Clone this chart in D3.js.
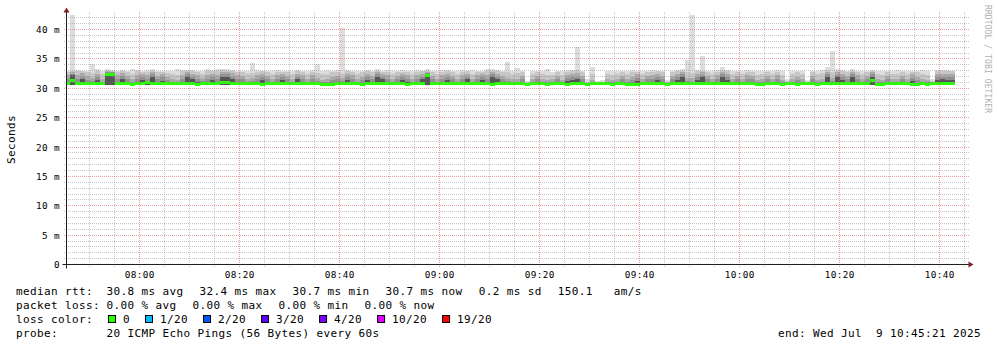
<!DOCTYPE html>
<html>
<head>
<meta charset="utf-8">
<script src="https://cdn.jsdelivr.net/npm/d3@7"></script>
<style>
  body { margin: 0; background: #fff; }
  svg { display: block; }
  text { font-family: "DejaVu Sans Mono", monospace; fill: #000; white-space: pre; }
</style>
</head>
<body>
<svg width="997" height="347"></svg>
<script>
// time window of the graph (3 hours) and the 1 minute step stamps
const startTime = new Date("2025-07-09T07:45:21Z");
const endTime = new Date("2025-07-09T10:45:21Z");
const firstStamp = new Date("2025-07-09T07:46:00Z");

// median rtt per minute (ms)
const median = [
  30.8,31.3,30.8,30.8,30.8,30.8,30.8,30.8,32.4,32.3,
  30.8,30.8,30.8,30.7,30.8,30.8,30.9,30.8,30.8,30.8,
  30.8,30.8,30.8,30.8,30.8,30.8,30.7,30.8,30.8,30.8,
  30.8,31.0,30.9,30.8,30.8,30.8,30.8,30.8,30.8,30.7,
  30.8,30.8,30.8,30.8,30.8,30.8,30.8,30.8,30.8,30.8,
  30.8,30.65,30.65,30.65,30.8,30.8,30.8,30.8,30.8,30.65,
  30.8,30.8,30.8,30.8,30.8,30.8,30.8,30.8,30.7,30.8,
  30.8,30.8,32.1,30.8,30.8,30.8,30.8,30.8,30.8,30.8,
  30.8,30.8,30.8,30.8,30.8,30.7,30.8,30.8,30.8,30.8,
  30.8,30.8,30.65,30.8,30.8,30.8,30.65,30.8,30.8,30.8,
  30.65,30.8,30.8,30.8,30.65,30.8,30.8,30.8,30.8,30.65,
  30.8,30.8,30.65,30.65,30.65,30.8,30.8,30.8,30.8,30.8,
  30.65,30.8,30.8,30.8,30.8,30.8,30.8,30.8,30.8,30.8,
  30.8,30.8,30.8,30.8,30.8,30.8,30.8,30.8,30.65,30.65,
  30.8,30.8,30.8,30.65,30.8,30.8,30.65,30.8,30.8,30.8,
  30.65,30.8,30.8,30.8,30.8,30.8,30.8,30.8,30.8,30.8,
  30.8,31.4,30.65,30.65,30.8,30.8,30.8,30.8,30.8,30.65,
  30.65,30.8,30.65,30.8,30.8,30.8,30.8,30.8
];

// lowest ping per minute
const pingMin = [
  30.6,30.6,30.6,30.6,30.6,30.6,30.6,30.6,30.6,30.6,
  30.6,30.6,30.6,30.6,30.6,30.6,30.6,30.6,30.6,30.6,
  30.6,30.6,30.6,30.6,30.6,30.6,30.6,30.6,30.6,30.6,
  30.6,30.6,30.6,30.6,30.6,30.6,30.6,30.6,30.6,30.6,
  30.6,30.6,30.6,30.6,30.6,30.6,30.6,30.6,30.6,30.6,
  30.6,30.5,30.5,30.5,30.6,30.6,30.6,30.6,30.6,30.5,
  30.6,30.6,30.6,30.6,30.6,30.6,30.6,30.6,30.3,30.6,
  30.6,30.6,30.6,30.6,30.6,30.6,30.6,30.6,30.6,30.6,
  30.6,30.6,30.6,30.6,30.6,30.6,30.6,30.6,30.6,30.6,
  30.6,30.6,30.5,30.6,30.6,30.6,30.5,30.6,30.6,30.6,
  30.5,30.6,30.6,30.6,30.5,30.6,30.6,30.6,30.6,30.5,
  30.6,30.6,30.5,30.5,30.5,30.6,30.6,30.6,30.6,30.6,
  30.5,30.6,30.6,30.6,30.6,30.6,30.6,30.6,30.6,30.6,
  30.6,30.6,30.6,30.6,30.6,30.6,30.6,30.6,30.5,30.5,
  30.6,30.6,30.6,30.5,30.6,30.6,30.5,30.6,30.6,30.6,
  30.5,30.6,30.6,30.6,30.6,30.6,30.6,30.6,30.6,30.6,
  30.6,30.5,30.5,30.5,30.6,30.6,30.6,30.6,30.6,30.5,
  30.5,30.6,30.5,30.6,30.6,30.6,30.6,30.6
];

// 12th, 14th, 16th, 18th of 20 sorted pings, and the highest ping
const p12 = [
  31.0,32.2,31.1,31.5,31.0,30.9,31.4,30.9,32.6,32.5,
  31.1,31.6,31.0,30.9,31.0,31.4,31.1,32.0,31.0,31.3,
  31.0,30.9,30.9,31.1,31.9,31.5,31.0,30.9,31.1,31.4,
  31.0,32.0,31.9,31.5,31.1,31.0,30.9,30.9,31.0,31.4,
  31.0,30.9,31.1,31.4,31.0,30.9,31.5,31.0,30.9,31.1,
  30.9,30.8,30.8,30.9,31.0,30.9,31.4,31.0,30.9,30.9,
  31.4,31.0,31.9,31.5,31.1,30.9,31.0,31.4,31.0,30.9,
  31.1,31.5,32.3,31.0,30.9,31.0,31.4,31.0,30.9,31.1,
  31.5,30.9,31.0,31.4,31.1,32.0,31.5,31.0,30.9,30.9,
  30.9,31.0,30.8,30.9,31.0,30.9,30.8,30.9,31.0,30.9,
  31.2,31.4,31.5,31.0,30.8,30.9,30.8,30.8,30.9,30.8,
  30.9,31.0,30.8,30.9,31.2,30.9,31.0,31.1,31.4,31.0,
  30.8,31.0,31.4,32.0,30.9,30.9,31.4,31.9,31.0,30.9,
  31.0,32.0,31.4,30.9,31.0,30.9,31.0,31.0,30.8,30.8,
  31.0,30.9,31.0,30.8,30.8,30.9,30.9,30.9,30.8,31.0,
  30.8,30.9,32.0,30.9,31.9,31.4,31.0,31.9,31.0,30.9,
  31.0,32.0,30.8,30.8,31.0,30.9,30.9,31.0,30.9,31.2,
  30.9,30.9,30.8,30.8,31.4,31.5,31.4,31.4
];
const p14 = [
  31.6,32.5,31.6,32.0,31.4,31.2,31.9,31.1,32.7,32.7,
  31.6,32.1,31.5,31.1,31.6,32.0,31.6,32.4,31.5,31.9,
  31.4,31.1,31.0,31.6,32.4,32.0,31.5,31.2,31.6,31.9,
  31.6,32.5,32.4,32.0,31.6,31.5,31.1,31.2,31.5,32.0,
  31.5,31.1,31.6,31.9,31.5,31.1,32.0,31.6,31.1,31.6,
  31.2,31.0,31.0,31.4,31.5,31.2,32.0,31.5,31.1,31.4,
  31.9,31.5,32.4,32.0,31.6,31.1,31.5,31.9,31.5,31.1,
  31.6,32.0,32.6,31.5,31.1,31.6,31.9,31.5,31.1,31.6,
  32.0,31.1,31.5,31.9,31.6,32.4,32.0,31.5,31.2,31.1,
  31.1,31.5,30.9,31.1,31.5,31.1,31.0,31.1,31.5,31.1,
  31.8,31.9,32.0,31.5,30.9,31.0,30.9,30.9,31.1,31.0,
  31.1,31.5,31.0,31.4,31.8,31.1,31.5,31.6,31.9,31.5,
  30.9,31.5,31.9,32.4,31.2,31.1,31.9,32.3,31.5,31.1,
  31.5,32.4,32.0,31.1,31.5,31.1,31.6,31.5,31.0,31.0,
  31.5,31.1,31.5,31.0,30.9,31.1,31.4,31.1,30.9,31.5,
  31.0,31.1,32.4,31.2,32.3,31.9,31.5,32.4,31.5,31.1,
  31.5,32.4,31.0,31.0,31.5,31.1,31.1,31.5,31.1,31.8,
  31.4,31.1,31.0,30.9,31.9,32.0,31.9,32.0
];
const p16 = [
  32.3,32.8,32.2,32.6,32.1,31.7,32.5,31.5,32.9,32.8,
  32.2,32.6,32.1,31.6,32.3,32.5,32.2,32.7,32.1,32.4,
  32.0,31.6,31.4,32.3,32.7,32.5,32.2,31.7,32.2,32.5,
  32.3,32.8,32.8,32.6,32.2,32.1,31.6,31.8,32.2,32.5,
  32.1,31.5,32.2,32.4,32.1,31.6,32.5,32.2,31.5,32.2,
  31.7,31.4,31.5,32.0,32.1,31.7,32.5,32.2,31.5,32.0,
  32.5,32.1,32.7,32.5,32.2,31.6,32.1,32.4,32.2,31.5,
  32.2,32.5,32.8,32.1,31.6,32.2,32.5,32.1,31.5,32.2,
  32.5,31.6,32.2,32.4,32.2,32.7,32.5,32.1,31.8,31.5,
  31.6,32.1,30.9,31.5,32.1,31.6,31.4,31.5,32.1,31.4,
  32.3,32.5,32.6,32.1,30.9,31.4,30.9,31.0,31.5,31.4,
  31.6,32.1,31.5,32.0,32.4,31.5,32.1,32.2,32.5,32.1,
  31.0,32.1,32.5,32.7,31.8,31.7,32.5,32.7,32.1,31.6,
  32.2,32.8,32.5,31.5,32.1,31.6,32.2,32.1,31.4,31.5,
  32.1,31.6,32.2,31.4,31.0,31.5,32.0,31.6,30.9,32.1,
  31.4,31.6,32.8,31.8,32.7,32.5,32.1,32.7,32.2,31.5,
  32.1,32.7,31.5,31.4,32.1,31.6,31.5,32.1,31.5,32.4,
  32.0,31.6,31.4,31.0,32.5,32.5,32.4,32.5
];
const p18 = [
  32.8,33.0,32.9,32.9,32.7,32.6,32.9,32.4,33.0,33.0,
  32.8,32.9,32.7,32.5,32.9,32.8,32.8,33.0,32.7,32.8,
  32.6,32.4,32.3,32.9,33.0,32.9,32.8,32.5,32.9,32.9,
  32.9,33.1,33.0,32.9,32.8,32.7,32.5,32.6,32.8,32.9,
  32.7,32.4,32.8,32.8,32.7,32.5,32.9,32.8,32.4,32.8,
  32.6,32.4,32.5,32.7,32.8,32.6,32.9,32.8,32.4,32.7,
  32.9,32.7,33.0,32.8,32.8,32.5,32.7,32.8,32.8,32.4,
  32.8,32.9,33.0,32.7,32.5,32.8,32.9,32.7,32.4,32.8,
  32.9,32.5,32.8,32.8,32.9,33.0,32.9,32.7,32.7,32.4,
  32.6,32.7,31.0,32.4,32.7,32.5,32.3,32.2,32.7,32.3,
  32.8,32.9,33.1,32.7,31.1,32.4,31.0,31.1,32.5,32.3,
  32.5,32.7,32.4,32.7,32.8,32.4,32.7,32.8,32.9,32.7,
  31.1,32.7,32.9,33.0,32.8,32.6,32.9,33.0,32.7,32.5,
  32.8,33.1,32.9,32.4,32.7,32.5,32.8,32.7,32.3,32.4,
  32.7,32.5,32.8,32.3,31.2,32.4,32.7,32.5,31.1,32.7,
  32.4,32.6,33.1,32.8,33.0,32.9,32.7,33.0,32.8,32.4,
  32.7,33.0,32.4,32.3,32.7,32.5,32.5,32.7,32.4,32.8,
  32.7,32.5,32.3,31.2,32.9,32.9,32.9,32.9
];
const pingMax = [
  33.0,42.5,33.1,33.0,33.0,34.1,33.2,32.9,33.2,33.1,
  33.0,33.1,32.9,33.3,33.1,33.0,33.1,33.2,33.0,33.0,
  32.9,32.9,33.2,33.1,33.1,33.1,33.0,33.0,33.2,33.1,
  33.3,33.3,33.2,33.1,33.0,33.0,33.0,34.3,33.1,33.0,
  33.0,32.9,33.1,33.0,32.9,33.0,33.1,33.0,33.0,33.1,
  34.1,32.9,33.1,33.0,33.1,40.2,33.1,33.0,32.9,33.0,
  33.1,33.0,33.2,33.0,33.1,33.0,33.0,33.1,33.0,32.9,
  33.1,33.0,33.2,33.0,33.0,33.1,33.1,32.9,33.0,33.1,
  33.0,33.1,33.0,33.0,33.2,33.2,33.1,33.0,34.5,33.0,
  33.5,33.0,31.3,32.9,33.0,33.0,33.3,32.8,33.0,32.9,
  33.1,33.1,37.0,33.0,31.5,33.6,31.2,31.4,33.0,32.9,
  33.0,33.0,33.0,33.1,33.0,32.9,33.0,33.1,33.0,33.0,
  31.4,33.0,33.1,33.2,34.8,42.5,33.1,35.5,33.0,33.0,
  33.1,33.6,33.1,32.9,33.0,33.0,33.1,33.0,32.9,33.0,
  33.0,33.0,33.1,32.9,31.6,33.0,33.0,33.0,31.4,33.0,
  33.0,33.1,33.6,36.3,33.2,33.1,33.0,33.2,33.0,32.9,
  33.0,33.1,33.0,32.9,33.0,33.0,33.1,33.0,32.9,33.0,
  33.0,33.1,32.9,31.6,33.1,33.1,33.1,33.0
];

// y ticks and legend texts
const yTicks = [0, 5, 10, 15, 20, 25, 30, 35, 40];
const yTickLabels = ["0", "5 m", "10 m", "15 m", "20 m", "25 m", "30 m", "35 m", "40 m"];
const rttStats = ["30.8 ms avg", "32.4 ms max", "30.7 ms min", "30.7 ms now", "0.2 ms sd", "150.1   am/s"];
const lossStats = ["0.00 % avg", "0.00 % max", "0.00 % min", "0.00 % now"];
const lossLabels = ["0", "1/20", "2/20", "3/20", "4/20", "10/20", "19/20"];
const lossColors = ["#26ff00", "#00b8ff", "#0059ff", "#5e00ff", "#7e00ff", "#dd00ff", "#ff0000"];
const probeText = "20 ICMP Echo Pings (56 Bytes) every 60s";
const endText = "end: Wed Jul  9 10:45:21 2025";

// smoke layers, outer to inner
const smokeLayers = [
  { values: pingMax, color: "#dddddd" },
  { values: p18, color: "#c6c6c6" },
  { values: p16, color: "#aaaaaa" },
  { values: p14, color: "#919191" },
  { values: p12, color: "#555555" }
];

const plot = { left: 66.5, right: 966.5, top: 14.5, bottom: 264.5 };
const svg = d3.select("svg");

const x = d3.scaleUtc().domain([startTime, endTime]).range([plot.left, plot.right]);
const y = d3.scaleLinear().domain([0, 250 / 5.875]).range([plot.bottom, plot.top]);

const stamps = d3.utcMinute.range(firstStamp, d3.utcMinute.offset(firstStamp, median.length));
const colX0 = (i) => Math.max(Math.round(x(d3.utcMinute.offset(stamps[i], -1))), 67);
const colX1 = (i) => Math.round(x(stamps[i]));

// smoke
smokeLayers.forEach((layer) => {
  svg.append("g")
    .attr("shape-rendering", "crispEdges")
    .selectAll("rect")
    .data(layer.values)
    .join("rect")
    .attr("x", (d, i) => colX0(i))
    .attr("width", (d, i) => colX1(i) - colX0(i))
    .attr("y", (d) => y(d))
    .attr("height", (d, i) => Math.max(0, y(pingMin[i]) - y(d)))
    .attr("fill", layer.color);
});

// median, coloured by loss (no loss here)
svg.append("g")
  .attr("shape-rendering", "crispEdges")
  .selectAll("rect")
  .data(median)
  .join("rect")
  .attr("x", (d, i) => colX0(i))
  .attr("width", (d, i) => colX1(i) - colX0(i))
  .attr("y", (d) => y(d) - 1.5)
  .attr("height", 3)
  .attr("fill", lossColors[0]);

// grid (dotted, dashes start on whole pixels)
const crisp = (v) => Math.round(v - 0.5) + 0.5;
const minorColor = "rgba(143,143,143,0.5)";
const majorColor = "rgba(222,80,80,0.55)";
const grid = svg.append("g").attr("stroke-width", 1).attr("stroke-dasharray", "1,1").attr("fill", "none");
const hLines = (vals, color) => grid.append("g").selectAll("line").data(vals).join("line")
  .attr("x1", 64).attr("x2", 969)
  .attr("y1", (d) => crisp(y(d))).attr("y2", (d) => crisp(y(d)))
  .attr("stroke", color);
const vLines = (vals, color) => grid.append("g").selectAll("line").data(vals).join("line")
  .attr("x1", (d) => crisp(x(d))).attr("x2", (d) => crisp(x(d)))
  .attr("y1", 267).attr("y2", 12)
  .attr("stroke", color);
const minorY = d3.range(1, 43).filter((v) => v % 5 !== 0);
const minorX = d3.utcMinute.every(5).range(startTime, endTime).filter((t) => t.getUTCMinutes() % 20 !== 0);
const majorX = d3.utcMinute.every(20).range(startTime, endTime);
hLines(minorY, minorColor);
vLines(minorX, minorColor);
hLines(yTicks.slice(1), majorColor);
vLines(majorX, majorColor);

// axes and arrows
svg.append("line")
  .attr("x1", plot.left - 4).attr("x2", plot.right + 4)
  .attr("y1", plot.bottom).attr("y2", plot.bottom)
  .attr("stroke", "#1f1f1f");
svg.append("line")
  .attr("x1", plot.left).attr("x2", plot.left)
  .attr("y1", plot.bottom + 4).attr("y2", plot.top - 4)
  .attr("stroke", "#1f1f1f");
svg.append("path")
  .attr("d", `M${plot.right + 2},${plot.bottom - 3}L${plot.right + 7},${plot.bottom}L${plot.right + 2},${plot.bottom + 3}Z`)
  .attr("fill", "#801f1f");
svg.append("path")
  .attr("d", `M${plot.left - 3},${plot.top - 2}L${plot.left},${plot.top - 7}L${plot.left + 3},${plot.top - 2}Z`)
  .attr("fill", "#801f1f");

// tick labels
const axisFont = (sel) => sel.style("font-size", "9.33px").style("letter-spacing", "0.4px");
svg.append("g").selectAll("text").data(yTicks).join("text")
  .call(axisFont)
  .attr("x", 60)
  .attr("y", (d) => y(d) + 3.5)
  .attr("text-anchor", "end")
  .text((d, i) => yTickLabels[i]);
svg.append("g").selectAll("text").data(majorX).join("text")
  .call(axisFont)
  .attr("x", (d) => x(d))
  .attr("y", 277.5)
  .attr("text-anchor", "middle")
  .text(d3.utcFormat("%H:%M"));

// axis title and watermark
const legendFont = (sel) => sel.style("font-size", "11px").style("letter-spacing", "0.38px");
svg.append("text")
  .call(legendFont)
  .attr("transform", `translate(15,${(plot.top + plot.bottom) / 2}) rotate(-90)`)
  .attr("text-anchor", "middle")
  .text("Seconds");
svg.append("text")
  .style("font-size", "8px")
  .style("letter-spacing", "0.1px")
  .style("fill", "#b0b0b0")
  .attr("transform", "translate(984.5,5) rotate(90)")
  .text("RRDTOOL / TOBI OETIKER");

// legend
function legendLine(yBase, label, items) {
  svg.append("text").call(legendFont).attr("x", 16).attr("y", yBase).text(label);
  let cx = 106.5;
  items.forEach((s) => {
    const t = svg.append("text").call(legendFont).attr("xml:space", "preserve")
      .attr("x", cx).attr("y", yBase).text(s);
    cx += t.node().getComputedTextLength() + 16;
  });
}
legendLine(295, "median rtt:", rttStats);
legendLine(309, "packet loss:", lossStats);

svg.append("text").call(legendFont).attr("x", 16).attr("y", 323).text("loss color:");
let bx = 108;
lossLabels.forEach((s, i) => {
  svg.append("rect")
    .attr("x", bx + 0.5).attr("y", 315.5)
    .attr("width", 7).attr("height", 7)
    .attr("fill", lossColors[i]).attr("stroke", "#000");
  const t = svg.append("text").call(legendFont).attr("x", bx + 15).attr("y", 323).text(s);
  bx += 15 + t.node().getComputedTextLength() + 15;
});

svg.append("text").call(legendFont).attr("x", 16).attr("y", 337).text("probe:");
svg.append("text").call(legendFont).attr("x", 106.5).attr("y", 337).text(probeText);
svg.append("text").call(legendFont).attr("xml:space", "preserve")
  .attr("x", 981).attr("y", 337).attr("text-anchor", "end").text(endText);
</script>
</body>
</html>
